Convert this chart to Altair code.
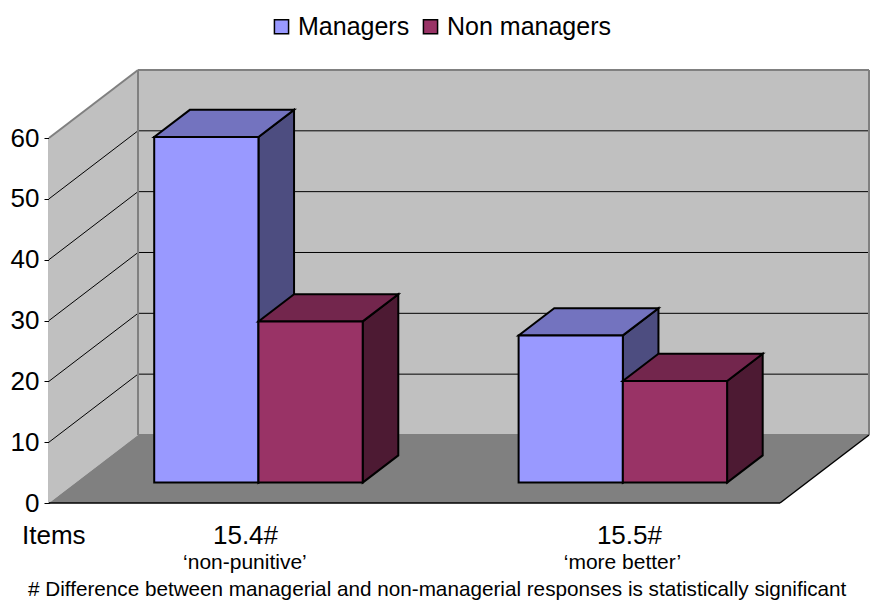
import altair as alt
import pandas as pd

# Values read per item
categories = ["15.4#", "15.5#"]
subtitles = ["\u2018non-punitive\u2019", "\u2018more better\u2019"]
series = ["Managers", "Non managers"]
managers = [56.8, 24.2]
non_managers = [26.5, 16.7]

front_colors = ["#9999FF", "#993366"]
top_colors = ["#7373BF", "#73264D"]
side_colors = ["#4D4D80", "#4D1A33"]
gridline_values = [10, 20, 30, 40, 50]
FONT = "Liberation Sans"

# Oblique projection: a unit of depth shifts a point right and up, in data units
DX = 0.2435
DY = 11.18
BAR_W = 0.2852
D0, D1 = 0.30, 0.70
X_MAX, Y_MAX = 2, 60
GROUP_CENTERS = [0.5, 1.497]

# Label placement under the floor, in axis units
CAT_LABEL_X = [0.5376, 1.588]
SUB_LABEL_X = [0.536, 1.569]
CAT_LABEL_Y = -6.66
SUB_LABEL_Y = -10.9


def pt(x, v, d):
    return x + d * DX, v + d * DY


x_enc = alt.X("x:Q", scale=alt.Scale(domain=[0, X_MAX], nice=False, zero=False), axis=None)
y_scale = alt.Scale(domain=[0, Y_MAX], nice=False, zero=False)
y_axis = alt.Axis(
    values=[0, 10, 20, 30, 40, 50, 60],
    title=None,
    grid=False,
    domainColor="#000000",
    domainWidth=1.5,
    tickColor="#000000",
    tickSize=5,
    tickWidth=1,
    labelFont=FONT,
    labelFontSize=26,
    labelColor="#000000",
    labelPadding=5,
)
y_enc = alt.Y("y:Q", stack=None, scale=y_scale, axis=y_axis)


def vface(points, fill, stroke=None, width=0):
    """Parallelogram with vertical edges: (x, low, high) rows."""
    rows = [{"x": x, "y": lo, "y2": hi} for x, lo, hi in points]
    kw = {"stroke": stroke, "strokeWidth": width} if stroke else {}
    return alt.Chart(pd.DataFrame(rows)).mark_area(fill=fill, orient="vertical", **kw).encode(
        x=x_enc, y=y_enc, y2="y2:Q"
    )


def hface(points, fill, stroke=None, width=0):
    """Parallelogram with horizontal edges: (y, left, right) rows."""
    rows = [{"y": y, "x": lo, "x2": hi} for y, lo, hi in points]
    kw = {"stroke": stroke, "strokeWidth": width} if stroke else {}
    return alt.Chart(pd.DataFrame(rows)).mark_area(fill=fill, orient="horizontal", **kw).encode(
        y=y_enc, x=x_enc, x2="x2:Q"
    )


def segments(pairs, color, width):
    rows = []
    for i, (a, b) in enumerate(pairs):
        for j, p in enumerate((a, b)):
            rows.append({"seg": i, "ord": j, "x": p[0], "y": p[1]})
    return alt.Chart(pd.DataFrame(rows)).mark_line(color=color, strokeWidth=width).encode(
        x=x_enc, y=y_enc, detail="seg:N", order="ord:Q"
    )


layers = []

# Walls and floor
layers.append(vface([(0, 0, Y_MAX), (DX, DY, Y_MAX + DY)], "#C0C0C0"))
layers.append(vface([(DX, DY, Y_MAX + DY), (X_MAX + DX, DY, Y_MAX + DY)], "#C0C0C0"))
layers.append(hface([(0, 0, X_MAX), (DY, DX, X_MAX + DX)], "#808080"))

# Gridlines across the side wall and the back wall
grid = []
for v in gridline_values:
    grid.append((pt(0, v, 0), pt(0, v, 1)))
    grid.append((pt(0, v, 1), pt(X_MAX, v, 1)))
layers.append(segments(grid, "#000000", 1))

# Wall edges
layers.append(segments([
    (pt(0, Y_MAX, 0), pt(0, Y_MAX, 1)),
    (pt(0, Y_MAX, 1), pt(X_MAX, Y_MAX, 1)),
    (pt(0, 0, 1), pt(0, Y_MAX, 1)),
    (pt(X_MAX, 0, 1), pt(X_MAX, Y_MAX, 1)),
    (pt(0, 0, 1), pt(X_MAX, 0, 1)),
], "#808080", 2))

# Front edges of the floor
layers.append(segments([
    (pt(0, 0, 0), pt(X_MAX, 0, 0)),
    (pt(X_MAX, 0, 0), pt(X_MAX, 0, 1)),
], "#000000", 1.5))

# Bars, back to front within each group
for cat, (m, n) in enumerate(zip(managers, non_managers)):
    for s, value in enumerate((m, n)):
        left = GROUP_CENTERS[cat] - BAR_W + s * BAR_W
        right = left + BAR_W
        x0, low = pt(left, 0, D0)
        x1, high = pt(right, value, D0)
        xb, low_b = pt(right, 0, D1)
        _, high_b = pt(right, value, D1)
        xl, _ = pt(left, 0, D1)
        layers.append(vface([(x1, low, high), (xb, low_b, high_b)], side_colors[s], "#000000", 2))
        layers.append(hface([(high, x0, x1), (high_b, xl, xb)], top_colors[s], "#000000", 2))
        front = pd.DataFrame([{"x": x0, "x2": x1, "y": low, "y2": high, "series": series[s]}])
        layers.append(
            alt.Chart(front).mark_rect(stroke="#000000", strokeWidth=2).encode(
                x=x_enc,
                x2="x2:Q",
                y=y_enc,
                y2="y2:Q",
                fill=alt.Fill(
                    "series:N",
                    scale=alt.Scale(domain=series, range=front_colors),
                    legend=alt.Legend(
                        orient="none",
                        legendX=220,
                        legendY=-124,
                        direction="horizontal",
                        title=None,
                        symbolType="square",
                        symbolSize=200,
                        symbolStrokeColor="#000000",
                        symbolStrokeWidth=1.5,
                        labelFont=FONT,
                        labelFontSize=25,
                        labelColor="#000000",
                        labelLimit=300,
                        columnPadding=8,
                    ),
                ),
            )
        )

# Item labels beneath the floor
labels = pd.DataFrame({
    "cat_x": CAT_LABEL_X,
    "sub_x": SUB_LABEL_X,
    "cat": categories,
    "sub": subtitles,
    "y_cat": [CAT_LABEL_Y] * len(categories),
    "y_sub": [SUB_LABEL_Y] * len(categories),
})
cat_x = alt.X("cat_x:Q", scale=alt.Scale(domain=[0, X_MAX], nice=False, zero=False), axis=None)
sub_x = alt.X("sub_x:Q", scale=alt.Scale(domain=[0, X_MAX], nice=False, zero=False), axis=None)
layers.append(
    alt.Chart(labels).mark_text(font=FONT, fontSize=26, color="#000000", align="center", baseline="alphabetic").encode(
        x=cat_x, y=alt.Y("y_cat:Q", scale=y_scale, axis=y_axis), text="cat:N"
    )
)
layers.append(
    alt.Chart(labels).mark_text(font=FONT, fontSize=21, color="#000000", align="center", baseline="alphabetic").encode(
        x=sub_x, y=alt.Y("y_sub:Q", scale=y_scale, axis=y_axis), text="sub:N"
    )
)
layers.append(
    alt.Chart(pd.DataFrame({"t": ["Items"]})).mark_text(font=FONT, fontSize=26, color="#000000", align="left", baseline="alphabetic").encode(
        x=alt.value(-27), y=alt.value(406), text="t:N"
    )
)
layers.append(
    alt.Chart(pd.DataFrame({"t": ["# Difference between managerial and non-managerial responses is statistically significant"]})).mark_text(font=FONT, fontSize=20.7, color="#000000", align="left", baseline="alphabetic").encode(
        x=alt.value(-21), y=alt.value(458), text="t:N"
    )
)

chart = alt.layer(*layers).properties(
    width=731,
    height=365,
    padding={"left": 49, "top": 138, "right": 94, "bottom": 97},
    autosize=alt.AutoSizeParams(type="none"),
    background="#FFFFFF",
).configure_view(stroke=None)

chart.save("out.html", embed_options={"renderer": "svg", "actions": False})
